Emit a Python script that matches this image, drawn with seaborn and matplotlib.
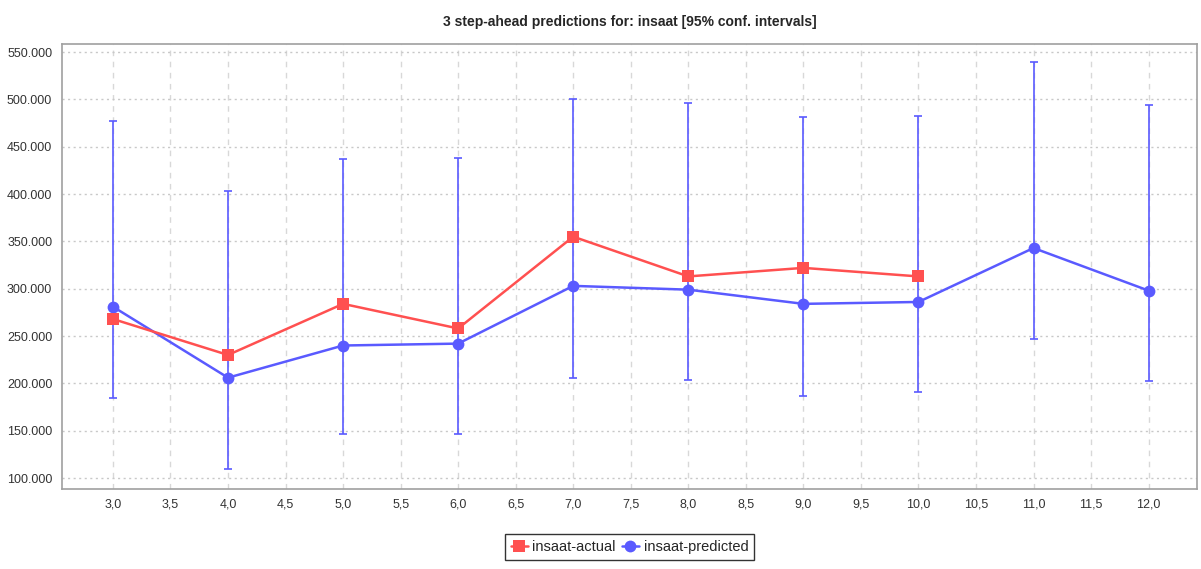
import matplotlib
matplotlib.use("Agg")
import matplotlib.pyplot as plt
import matplotlib.ticker as mticker
import seaborn as sns
import pandas as pd
import numpy as np

# Datos
pasos = [3, 4, 5, 6, 7, 8, 9, 10, 11, 12]
actual = [268000, 230000, 284000, 258000, 355000, 313000, 322000, 313000]
predicho = [281000, 206000, 240000, 242000, 303000, 299000, 284000, 286000, 343000, 298000]
ic_sup = [477000, 403000, 437000, 438000, 500000, 496000, 481000, 483000, 540000, 494000]
ic_inf = [185000, 110000, 146000, 147000, 206000, 204000, 187000, 191000, 247000, 202000]

ROJO = "#ff5050"
AZUL = "#5a5aff"

sns.set_style("white")
plt.rcParams['font.family'] = ['Liberation Sans', 'DejaVu Sans']

df_act = pd.DataFrame({"paso": pasos[:len(actual)], "valor": actual})
df_pred = pd.DataFrame({"paso": pasos, "valor": predicho})

fig = plt.figure(figsize=(12.01, 5.69), dpi=100)
ax = fig.add_axes([0.0516, 0.1406, 0.945, 0.782])

# barras de intervalo de confianza
pred = np.array(predicho)
ax.errorbar(pasos, pred, yerr=[pred - np.array(ic_inf), np.array(ic_sup) - pred],
            fmt="none", ecolor=AZUL, elinewidth=1.2, capsize=3, capthick=1.2, zorder=2)

sns.lineplot(data=df_act, x="paso", y="valor", ax=ax, color=ROJO, linewidth=1.8,
             marker="s", markersize=8.5, markeredgewidth=0, label="insaat-actual", zorder=4)
sns.lineplot(data=df_pred, x="paso", y="valor", ax=ax, color=AZUL, linewidth=1.8,
             marker="o", markersize=8.5, markeredgewidth=0, label="insaat-predicted", zorder=3)

ax.set_xlim(2.557, 12.42)
ax.set_ylim(88400, 558500)
ax.xaxis.set_major_locator(mticker.MultipleLocator(0.5))
ax.yaxis.set_major_locator(mticker.MultipleLocator(50000))
ax.xaxis.set_major_formatter(mticker.FuncFormatter(lambda v, p: f"{v:.1f}".replace(".", ",")))
ax.yaxis.set_major_formatter(mticker.FuncFormatter(lambda v, p: f"{v:,.0f}".replace(",", ".")))

ax.grid(axis="y", color="#c8c8c8", linestyle=(0, (1.5, 2.5)), linewidth=1)
ax.grid(axis="x", color="#d8d8d8", linestyle=(0, (4, 4)), linewidth=1)
ax.set_axisbelow(True)

for s in ax.spines.values():
    s.set_color("#a0a0a0")
    s.set_linewidth(1.2)

ax.tick_params(axis="both", which="major", direction="out", length=4, width=1,
               color="#a0a0a0", labelsize=9, labelcolor="#333333", pad=3)
ax.set_xlabel("")
ax.set_ylabel("")

ax.set_title("3 step-ahead predictions for: insaat [95% conf. intervals]",
             fontsize=10, fontweight="bold", pad=13)

leg = ax.legend(loc="upper center", bbox_to_anchor=(0.5, -0.085), ncol=2,
                frameon=True, fancybox=False, fontsize=10.5, handlelength=1.2,
                handletextpad=0.3, columnspacing=0.4, borderpad=0.4)
leg.get_frame().set_edgecolor("#000000")
leg.get_frame().set_linewidth(1)

fig.savefig("out.png", dpi=100)
